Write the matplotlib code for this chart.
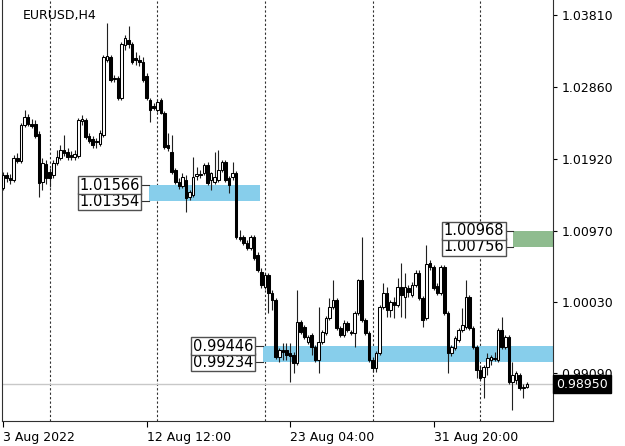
import matplotlib.pyplot as plt
from matplotlib.patches import Rectangle
from matplotlib import transforms

# EURUSD H4 candles (bar 0 = 3 Aug 20:00)
opens = [1.0153, 1.0170, 1.0166, 1.0164, 1.0193, 1.0189, 1.0236, 1.0247, 1.0237, 1.0237,
         1.0224, 1.0161, 1.0185, 1.0174, 1.0170, 1.0186, 1.0193, 1.0203, 1.0201, 1.0197,
         1.0194, 1.0195, 1.0241, 1.0243, 1.0222, 1.0218, 1.0214, 1.0211, 1.0223, 1.0322,
         1.0326, 1.0298, 1.0298, 1.0272, 1.0342, 1.0348, 1.0343, 1.0324, 1.0322, 1.0319,
         1.0301, 1.0269, 1.0261, 1.0256, 1.0269, 1.0252, 1.0210, 1.0201, 1.0177, 1.0161,
         1.0156, 1.0164, 1.0141, 1.0144, 1.0169, 1.0172, 1.0173, 1.0183, 1.0164, 1.0161,
         1.0164, 1.0177, 1.0187, 1.0166, 1.0168, 1.0173, 1.0089, 1.0089, 1.0081, 1.0074,
         1.0089, 1.0065, 1.0042, 1.0023, 1.0039, 1.0015, 1.0006, 0.9930, 0.9940, 0.9940,
         0.9936, 0.9933, 0.9923, 0.9977, 0.9970, 0.9950, 0.9960, 0.9944, 0.9927, 0.9950,
         0.9962, 0.9982, 0.9997, 1.0006, 0.9969, 0.9960, 0.9975, 0.9963, 0.9962, 0.9989,
         1.0032, 0.9979, 0.9962, 0.9927, 0.9916, 0.9936, 0.9997, 1.0015, 0.9993, 1.0003,
         0.9999, 1.0023, 1.0010, 1.0021, 1.0012, 1.0025, 1.0041, 1.0008, 0.9982, 1.0054,
         1.0049, 1.0024, 1.0015, 1.0049, 0.9989, 0.9936, 0.9942, 0.9953, 0.9966, 0.9970,
         1.0010, 0.9969, 0.9944, 0.9914, 0.9904, 0.9917, 0.9927, 0.9928, 0.9927, 0.9966,
         0.9944, 0.9957, 0.9898, 0.9900, 0.9907, 0.9890, 0.9891]
highs = [1.0174, 1.0174, 1.0172, 1.0197, 1.0199, 1.0239, 1.0256, 1.0251, 1.0244, 1.0243,
         1.0228, 1.0193, 1.0190, 1.0180, 1.0190, 1.0203, 1.0210, 1.0223, 1.0206, 1.0202,
         1.0203, 1.0245, 1.0249, 1.0245, 1.0226, 1.0222, 1.0219, 1.0230, 1.0328, 1.0370,
         1.0328, 1.0302, 1.0301, 1.0345, 1.0355, 1.0367, 1.0345, 1.0332, 1.0328, 1.0326,
         1.0305, 1.0272, 1.0265, 1.0270, 1.0272, 1.0255, 1.0226, 1.0223, 1.0180, 1.0166,
         1.0173, 1.0170, 1.0151, 1.0194, 1.0181, 1.0177, 1.0186, 1.0187, 1.0174, 1.0201,
         1.0203, 1.0190, 1.0190, 1.0169, 1.0187, 1.0176, 1.0098, 1.0091, 1.0085, 1.0091,
         1.0091, 1.0069, 1.0048, 1.0041, 1.0041, 1.0019, 1.0008, 0.9942, 0.9949, 0.9949,
         0.9949, 0.9937, 1.0019, 0.9979, 0.9973, 0.9960, 0.9962, 0.9946, 0.9997, 0.9966,
         0.9985, 1.0008, 1.0032, 1.0008, 0.9971, 0.9979, 0.9978, 0.9966, 0.9991, 1.0033,
         1.0089, 0.9982, 0.9965, 0.9930, 0.9938, 0.9999, 1.0028, 1.0023, 1.0006, 1.0010,
         1.0035, 1.0054, 1.0041, 1.0025, 1.0029, 1.0045, 1.0045, 1.0011, 1.0078, 1.0058,
         1.0052, 1.0028, 1.0052, 1.0052, 0.9991, 0.9946, 0.9958, 0.9969, 0.9995, 1.0032,
         1.0012, 0.9971, 0.9946, 0.9920, 0.9920, 0.9936, 0.9933, 0.9937, 0.9969, 0.9983,
         0.9960, 0.9960, 0.9924, 0.9912, 0.9910, 0.9895, 0.9898]
lows = [1.0151, 1.0161, 1.0158, 1.0161, 1.0186, 1.0186, 1.0233, 1.0235, 1.0232, 1.0219,
        1.0141, 1.0151, 1.0158, 1.0154, 1.0166, 1.0183, 1.0190, 1.0195, 1.0190, 1.0190,
        1.0190, 1.0193, 1.0236, 1.0218, 1.0212, 1.0206, 1.0206, 1.0208, 1.0220, 1.0319,
        1.0293, 1.0293, 1.0269, 1.0269, 1.0335, 1.0338, 1.0316, 1.0315, 1.0314, 1.0293,
        1.0269, 1.0240, 1.0256, 1.0253, 1.0251, 1.0204, 1.0202, 1.0172, 1.0158, 1.0152,
        1.0153, 1.0121, 1.0137, 1.0141, 1.0164, 1.0166, 1.0170, 1.0157, 1.0151, 1.0158,
        1.0161, 1.0174, 1.0161, 1.0147, 1.0164, 1.0086, 1.0083, 1.0078, 1.0072, 1.0072,
        1.0058, 1.0042, 1.0021, 1.0020, 0.9989, 0.9993, 0.9928, 0.9924, 0.9927, 0.9927,
        0.9898, 0.9910, 0.9920, 0.9961, 0.9954, 0.9948, 0.9933, 0.9924, 0.9910, 0.9948,
        0.9960, 0.9979, 0.9994, 0.9966, 0.9957, 0.9957, 0.9963, 0.9960, 0.9944, 0.9986,
        0.9977, 0.9960, 0.9924, 0.9911, 0.9911, 0.9933, 0.9994, 0.9983, 0.9983, 0.9982,
        0.9997, 0.9983, 0.9982, 1.0010, 1.0010, 1.0023, 1.0006, 0.9970, 0.9979, 1.0045,
        1.0019, 1.0012, 1.0012, 0.9986, 0.9910, 0.9932, 0.9940, 0.9950, 0.9963, 0.9967,
        0.9966, 0.9941, 0.9903, 0.9900, 0.9876, 0.9907, 0.9920, 0.9925, 0.9924, 0.9941,
        0.9941, 0.9895, 0.9861, 0.9895, 0.9887, 0.9876, 0.9890]
closes = [1.0170, 1.0166, 1.0164, 1.0193, 1.0189, 1.0236, 1.0247, 1.0237, 1.0235, 1.0222,
          1.0160, 1.0186, 1.0166, 1.0166, 1.0186, 1.0194, 1.0203, 1.0199, 1.0194, 1.0194,
          1.0198, 1.0243, 1.0244, 1.0220, 1.0215, 1.0210, 1.0215, 1.0226, 1.0326, 1.0327,
          1.0295, 1.0297, 1.0272, 1.0343, 1.0351, 1.0343, 1.0319, 1.0322, 1.0319, 1.0295,
          1.0272, 1.0256, 1.0259, 1.0266, 1.0252, 1.0207, 1.0206, 1.0174, 1.0161, 1.0156,
          1.0168, 1.0140, 1.0148, 1.0168, 1.0172, 1.0170, 1.0183, 1.0160, 1.0173, 1.0168,
          1.0177, 1.0187, 1.0164, 1.0157, 1.0173, 1.0089, 1.0086, 1.0081, 1.0074, 1.0089,
          1.0061, 1.0045, 1.0025, 1.0039, 1.0015, 1.0006, 0.9930, 0.9940, 0.9937, 0.9933,
          0.9932, 0.9923, 0.9977, 0.9963, 0.9957, 0.9957, 0.9944, 0.9927, 0.9950, 0.9963,
          0.9982, 0.9997, 1.0006, 0.9969, 0.9960, 0.9975, 0.9966, 0.9962, 0.9989, 1.0032,
          0.9979, 0.9962, 0.9927, 0.9916, 0.9936, 0.9997, 1.0015, 0.9993, 1.0003, 0.9999,
          1.0023, 1.0012, 1.0023, 1.0016, 1.0025, 1.0041, 1.0008, 0.9979, 1.0053, 1.0049,
          1.0021, 1.0015, 1.0049, 0.9989, 0.9936, 0.9944, 0.9956, 0.9966, 0.9973, 1.0010,
          0.9969, 0.9944, 0.9914, 0.9903, 0.9917, 0.9929, 0.9930, 0.9929, 0.9966, 0.9944,
          0.9957, 0.9898, 0.9907, 0.9910, 0.9890, 0.9891, 0.9895]

# monday separators (bar index) and time axis labels
week_starts = [13, 43, 73, 103, 133]
tick_bars = [0, 40, 80, 120]
tick_labels = ['3 Aug 2022', '12 Aug 12:00', '23 Aug 04:00', '31 Aug 20:00']
price_ticks = [1.0381, 1.0286, 1.0192, 1.0097, 1.0003, 0.9909]
last_price = 0.9895

# supply / demand zones
zone_tops = [1.01566, 0.99446, 1.00968]
zone_bottoms = [1.01354, 0.99234, 1.00756]
zone_colors = ['#87ceeb', '#87ceeb', '#8fbc8f']
zone_start = [40.7, 72.5, 142.2]
zone_end = [71.6, 154.0, 154.0]
label_right = [38.3, 70.0, 140.0]

fig = plt.figure(figsize=(6.25, 4.46), dpi=100)
ax = fig.add_axes([2/625, 25/446, 551/625, 421/446])
ax.set_xlim(-0.28, 153.3)
ax.set_ylim(0.98463, 1.040076)

for b in week_starts:
    ax.axvline(b, color='#303030', lw=0.8, linestyle=(0, (2, 2)), zorder=1)

ax.axhline(last_price, color='#c8c8c8', lw=1, zorder=1)

for k in range(len(zone_tops)):
    ax.add_patch(Rectangle((zone_start[k], zone_bottoms[k]), zone_end[k] - zone_start[k],
                           zone_tops[k] - zone_bottoms[k], facecolor=zone_colors[k],
                           edgecolor='none', zorder=2))

# candles
w = 0.72
for i in range(len(opens)):
    o, h, l, c = opens[i], highs[i], lows[i], closes[i]
    ax.vlines(i, l, h, color='#202020', lw=0.8, zorder=3)
    fc = 'white' if c >= o else 'black'
    ax.add_patch(Rectangle((i - w/2, min(o, c)), w, max(abs(c - o), 0.00002),
                           facecolor=fc, edgecolor='black', lw=0.75, zorder=4))

# zone price labels
for k in range(len(zone_tops)):
    for lvl in (zone_bottoms[k], zone_tops[k]):
        ax.plot([label_right[k], zone_start[k]], [lvl, lvl], color='#303030', lw=0.8, zorder=5)
        ax.text(label_right[k] - 0.3, lvl, f'{lvl:.5f}', ha='right', va='center',
                fontsize=10.5, zorder=6,
                bbox=dict(boxstyle='square,pad=0.1', fc='white', ec='#505050', lw=1))

ax.text(0.038, 0.964, 'EURUSD,H4', transform=ax.transAxes, fontsize=9, va='center')

ax.set_xticks(tick_bars)
ax.set_xticklabels(tick_labels, ha='left')
ax.yaxis.tick_right()
ax.set_yticks(price_ticks)
ax.set_yticklabels([f'{p:.5f}' for p in price_ticks])
ax.tick_params(axis='x', length=4, labelsize=9, pad=3)
ax.tick_params(axis='y', length=3, labelsize=9, pad=3)

ax.spines['top'].set_visible(False)
for s in ('left', 'right', 'bottom'):
    ax.spines[s].set_color('#303030')
    ax.spines[s].set_linewidth(0.8)

trans = transforms.blended_transform_factory(ax.transAxes, ax.transData)
ax.text(1.0 + 3/551, last_price, f'{last_price:.5f}', transform=trans, color='white',
        fontsize=9, ha='left', va='center', zorder=10, clip_on=False,
        bbox=dict(boxstyle='square,pad=0.22', fc='black', ec='black'))

fig.savefig('out.png', dpi=100)
